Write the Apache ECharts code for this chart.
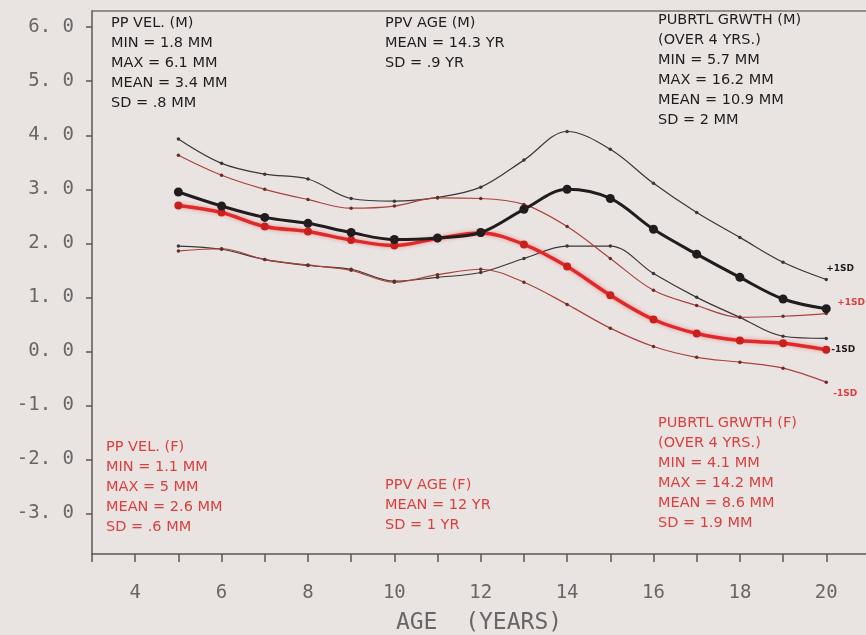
<!DOCTYPE html>
<html>
<head>
<meta charset="utf-8">
<script src="https://cdn.jsdelivr.net/npm/echarts@6/dist/echarts.min.js"></script>
<style>
  html, body { margin: 0; padding: 0; background: #e9e4e2; }
  #chart { width: 866px; height: 635px; }
</style>
</head>
<body>
<div id="chart"></div>
<script>
// ages (years)
var ages = [5, 6, 7, 8, 9, 10, 11, 12, 13, 14, 15, 16, 17, 18, 19, 20];

// males (black)
var maleUpper = [3.93, 3.48, 3.28, 3.19, 2.83, 2.78, 2.85, 3.04, 3.54, 4.07, 3.74, 3.11, 2.57, 2.11, 1.65, 1.33];
var maleMean  = [2.95, 2.69, 2.48, 2.37, 2.20, 2.07, 2.10, 2.20, 2.63, 3.00, 2.83, 2.26, 1.80, 1.37, 0.97, 0.79];
var maleLower = [1.95, 1.89, 1.70, 1.59, 1.52, 1.30, 1.37, 1.46, 1.72, 1.95, 1.95, 1.44, 1.00, 0.63, 0.28, 0.24];

// females (red)
var femaleUpper = [3.63, 3.26, 3.00, 2.81, 2.65, 2.69, 2.84, 2.83, 2.72, 2.31, 1.72, 1.13, 0.85, 0.63, 0.65, 0.70];
var femaleMean  = [2.70, 2.57, 2.31, 2.22, 2.06, 1.96, 2.09, 2.19, 1.98, 1.57, 1.04, 0.59, 0.33, 0.20, 0.15, 0.03];
var femaleLower = [1.86, 1.90, 1.70, 1.60, 1.50, 1.28, 1.42, 1.52, 1.28, 0.87, 0.43, 0.09, -0.11, -0.20, -0.31, -0.57];

// ticks
var yTicks = [-3, -2, -1, 0, 1, 2, 3, 4, 5, 6];
var xTicks = [3, 4, 5, 6, 7, 8, 9, 10, 11, 12, 13, 14, 15, 16, 17, 18, 19, 20];
var xLabels = [4, 6, 8, 10, 12, 14, 16, 18, 20];

var BLACK = '#211d1f';
var THIN_BLACK = '#3b3638';
var RED = '#e0292a';
var THIN_RED = '#a9433d';
var TXT_RED = '#d9403f';
var AXIS = '#5a5657';
var LABEL = '#6a6566';

function pairs(vals) {
	return ages.map(function (a, i) { return [a, vals[i]]; });
}

// annotation blocks: [x, first line y, color, lines]
var notes = [
	[111, 25, BLACK, ['PP VEL. (M)', 'MIN = 1.8 MM', 'MAX = 6.1 MM', 'MEAN = 3.4 MM', 'SD = .8 MM']],
	[385, 25, BLACK, ['PPV AGE (M)', 'MEAN = 14.3 YR', 'SD = .9 YR']],
	[658, 22, BLACK, ['PUBRTL GRWTH (M)', '(OVER 4 YRS.)', 'MIN = 5.7 MM', 'MAX = 16.2 MM', 'MEAN = 10.9 MM', 'SD = 2 MM']],
	[106, 449, TXT_RED, ['PP VEL. (F)', 'MIN = 1.1 MM', 'MAX = 5 MM', 'MEAN = 2.6 MM', 'SD = .6 MM']],
	[385, 487, TXT_RED, ['PPV AGE (F)', 'MEAN = 12 YR', 'SD = 1 YR']],
	[658, 425, TXT_RED, ['PUBRTL GRWTH (F)', '(OVER 4 YRS.)', 'MIN = 4.1 MM', 'MAX = 14.2 MM', 'MEAN = 8.6 MM', 'SD = 1.9 MM']]
];

var graphics = [];
notes.forEach(function (n) {
	n[3].forEach(function (line, i) {
		graphics.push({
			type: 'text',
			left: n[0],
			top: n[1] + i * 20 - 9,
			style: {
				text: line,
				fill: n[2],
				font: '14.5px "DejaVu Sans"'
			}
		});
	});
});

var chart = echarts.init(document.getElementById('chart'));

function thin(name, vals, color, markColor, label, offset) {
	return {
		name: name,
		type: 'line',
		data: pairs(vals),
		smooth: 0.35,
		symbol: 'circle',
		symbolSize: 3.5,
		lineStyle: { color: color, width: 1.2 },
		itemStyle: { color: markColor },
		endLabel: {
			show: true,
			formatter: label,
			color: color === THIN_RED ? TXT_RED : BLACK,
			fontSize: 9,
			fontWeight: 'bold',
			fontFamily: 'DejaVu Sans',
			offset: offset
		},
		z: 2
	};
}

var option = {
	backgroundColor: '#e9e4e2',
	animation: false,
	grid: {
		left: 92,
		right: 0,
		top: 11,
		bottom: 81,
		outerBoundsMode: 'none',
		containLabel: false
	},
	xAxis: [
		{
			type: 'value',
			min: 3,
			max: 20.92,
			name: 'AGE  (YEARS)',
			nameLocation: 'middle',
			nameGap: 58,
			nameTextStyle: {
				color: LABEL,
				fontSize: 23,
				fontFamily: 'DejaVu Sans Mono'
			},
			splitLine: { show: false },
			axisLine: { onZero: false, lineStyle: { color: AXIS, width: 1.5 } },
			axisTick: {
				customValues: xTicks,
				length: 8,
				lineStyle: { color: AXIS, width: 1.5 }
			},
			axisLabel: {
				customValues: xLabels,
				margin: 30,
				color: LABEL,
				fontSize: 19,
				fontFamily: 'DejaVu Sans Mono'
			}
		},
		{
			type: 'value',
			position: 'top',
			min: 3,
			max: 20.92,
			splitLine: { show: false },
			axisLine: { onZero: false, lineStyle: { color: '#77726f', width: 1.5 } },
			axisTick: { show: false },
			axisLabel: { show: false }
		}
	],
	yAxis: {
		type: 'value',
		min: -3.75,
		max: 6.3,
		splitLine: { show: false },
		axisLine: { show: true, onZero: false, lineStyle: { color: AXIS, width: 1.5 } },
		axisTick: {
			show: true,
			customValues: yTicks,
			length: 6,
			lineStyle: { color: AXIS, width: 1.5 }
		},
		axisLabel: {
			customValues: yTicks,
			margin: 18,
			color: LABEL,
			fontSize: 19,
			fontFamily: 'DejaVu Sans Mono',
			formatter: function (v) {
				return v.toFixed(1).replace('.', '. ');
			}
		}
	},
	graphic: graphics,
	series: [
		thin('male +1SD', maleUpper, THIN_BLACK, THIN_BLACK, '+1SD', [-8, -11]),
		thin('male -1SD', maleLower, THIN_BLACK, THIN_BLACK, '-1SD', [-3, 11]),
		thin('female +1SD', femaleUpper, THIN_RED, '#6e2a27', '+1SD', [3, -11]),
		thin('female -1SD', femaleLower, THIN_RED, '#6e2a27', '-1SD', [-1, 11]),
		{
			name: 'female mean',
			type: 'line',
			data: pairs(femaleMean),
			smooth: 0.35,
			symbol: 'circle',
			symbolSize: 8,
			lineStyle: {
				color: RED,
				width: 3.5,
				shadowColor: 'rgba(230,40,40,0.45)',
				shadowBlur: 4
			},
			itemStyle: { color: '#c8201f' },
			z: 3
		},
		{
			name: 'male mean',
			type: 'line',
			data: pairs(maleMean),
			smooth: 0.35,
			symbol: 'circle',
			symbolSize: 9,
			lineStyle: { color: BLACK, width: 3 },
			itemStyle: { color: BLACK },
			z: 4
		}
	]
};

option && chart.setOption(option);
</script>
</body>
</html>
